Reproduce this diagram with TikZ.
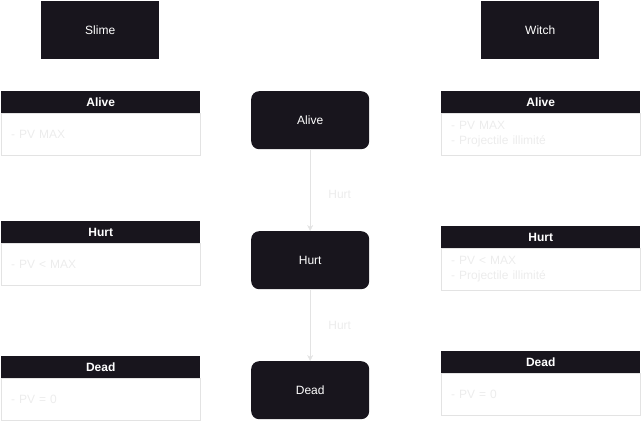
\documentclass[tikz,border=0pt]{standalone}
\usepackage{fontspec}
\setmainfont{Liberation Sans}
\usepackage{tikz}
\usetikzlibrary{positioning,arrows.meta}
\definecolor{ink}{HTML}{18151D}
\definecolor{pale}{HTML}{E3E3E3}
\definecolor{faint}{HTML}{ECECEC}

\begin{document}
\begin{tikzpicture}[x=1pt, y=-1pt, every node/.style={inner sep=0pt, font=\fontsize{12}{15}\selectfont},
    entity/.style={fill=ink, text=white, minimum width=118pt, minimum height=58pt, anchor=north west},
    state/.style={entity, rounded corners=8pt},
    head/.style={fill=ink, text=white, font=\bfseries\fontsize{12}{15}\selectfont, minimum width=199pt, minimum height=22pt, anchor=north west},
    body/.style={draw=pale, text=faint, align=left, inner xsep=10pt, text width=179pt, minimum height=42pt},
    flow/.style={draw=pale, -{Stealth[length=6pt, width=6pt]}},
    lbl/.style={text=faint}]
    \useasboundingbox (0,0) rectangle (641,421);
    % characters
    \node[entity] (slime) at (41,1) {Slime};
    \node[entity] (witch) at (481,1) {Witch};
    % slime states
    \node[head] (sAlive) at (1,91) {Alive};
    \node[body, below=0pt of sAlive] (sAliveBody) {- PV MAX};
    \node[head] (sHurt) at (1,221) {Hurt};
    \node[body, below=0pt of sHurt] (sHurtBody) {- PV < MAX};
    \node[head] (sDead) at (1,356) {Dead};
    \node[body, below=0pt of sDead] (sDeadBody) {- PV = 0};
    % witch states
    \node[head] (wAlive) at (441,91) {Alive};
    \node[body, below=0pt of wAlive] (wAliveBody) {- PV MAX\\- Projectile illimité};
    \node[head] (wHurt) at (441,226) {Hurt};
    \node[body, below=0pt of wHurt] (wHurtBody) {- PV < MAX\\- Projectile illimité};
    \node[head] (wDead) at (441,351) {Dead};
    \node[body, below=0pt of wDead] (wDeadBody) {- PV = 0};
    % state machine
    \node[state] (alive) at (251,91) {Alive};
    \node[state] (hurt) at (251,231) {Hurt};
    \node[state] (dead) at (251,361) {Dead};
    \draw[flow] (alive) -- node[lbl, pos=0.55, right=18pt] {Hurt} (hurt);
    \draw[flow] (hurt) -- node[lbl, right=18pt] {Hurt} (dead);
\end{tikzpicture}
\end{document}
